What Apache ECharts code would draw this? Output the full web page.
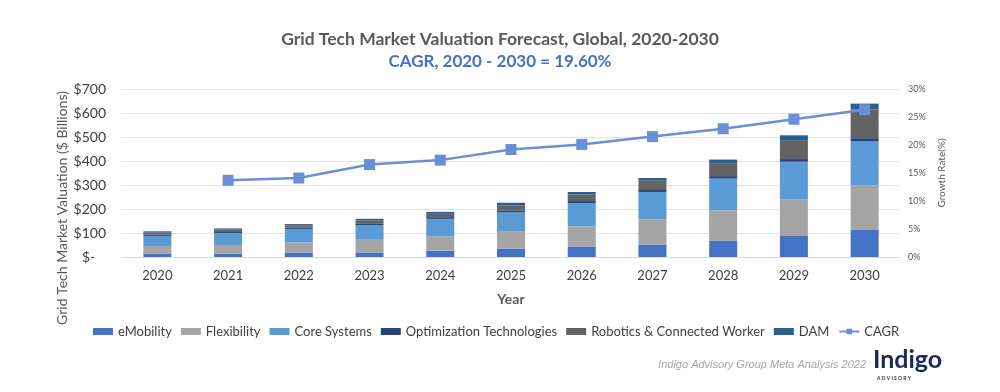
<!DOCTYPE html>
<html>
<head>
<meta charset="utf-8">
<script src="https://cdn.jsdelivr.net/npm/echarts@6/dist/echarts.min.js"></script>
<style>
html,body{margin:0;padding:0;background:#fff;}
#chart{width:1000px;height:392px;}
</style>
</head>
<body>
<div id="chart"></div>
<script>
const categories = ['2020','2021','2022','2023','2024','2025','2026','2027','2028','2029','2030'];
const eMobility    = [13, 14, 18, 19, 26, 35, 42, 52, 67, 88, 115];
const flexibility  = [33, 36, 43, 53, 61, 73, 86, 105, 127, 152, 183];
const coreSystems  = [42, 50, 56, 61, 72, 79, 97, 114, 133, 157, 185];
const optimization = [5, 4, 5, 5, 7, 7, 8, 8, 10, 11, 12];
const robotics     = [9, 10, 10, 14, 14, 21, 27, 39, 54, 79, 120];
const dam          = [5, 5, 5, 7, 8, 11, 11, 11, 15, 20, 24];
const cagr         = [null, 13.7, 14.1, 16.5, 17.3, 19.2, 20.1, 21.5, 22.9, 24.6, 26.3];
const leftTicks = [0,100,200,300,400,500,600,700];

const FONT = 'Lato';
const chart = echarts.init(document.getElementById('chart'), null, {renderer:'canvas'});

function bar(name, data, color){
  return {name, type:'bar', stack:'total', data, barWidth:28,
    itemStyle:{color}, emphasis:{disabled:true}};
}

chart.setOption({
  backgroundColor:'#ffffff',
  animation:false,
  textStyle:{fontFamily:FONT},
  title:[{
    text:'Grid Tech Market Valuation Forecast, Global, 2020-2030',
    left:'center', top:25,
    textStyle:{fontFamily:FONT, fontSize:17.5, fontWeight:'bold', color:'#595959'}
  },{
    text:'CAGR, 2020 - 2030 = 19.60%',
    left:'center', top:48,
    textStyle:{fontFamily:FONT, fontSize:17, fontWeight:'bold', color:'#4472C4'}
  }],
  grid:{left:122, right:100, top:89, bottom:135},
  legend:{
    left:88, top:320, itemWidth:20, itemHeight:7, itemGap:9,
    textStyle:{fontFamily:FONT, fontSize:13, color:'#404040'},
    data:[
      {name:'eMobility', icon:'rect'},
      {name:'Flexibility', icon:'rect'},
      {name:'Core Systems', icon:'rect'},
      {name:'Optimization Technologies', icon:'rect'},
      {name:'Robotics & Connected Worker', icon:'rect'},
      {name:'DAM', icon:'rect'},
      {name:'CAGR'}
    ]
  },
  xAxis:{
    type:'category', data:categories,
    name:'Year', nameLocation:'middle', nameGap:35,
    nameTextStyle:{fontFamily:FONT, fontSize:14, fontWeight:'bold', color:'#595959'},
    axisLine:{lineStyle:{color:'#d9d9d9'}},
    axisTick:{show:false},
    axisLabel:{fontFamily:FONT, fontSize:13, color:'#404040', margin:12}
  },
  yAxis:[{
    type:'value', min:0, max:700, interval:100,
    axisLine:{show:false}, axisTick:{show:false},
    splitLine:{lineStyle:{color:'#e3e3e3', width:1}},
    axisLabel:{fontFamily:FONT, fontSize:14, color:'#404040', margin:16,
      formatter:v => v===0 ? '$-   ' : '$'+v}
  },{
    type:'value', min:0, max:30, interval:5, position:'right',
    name:'Growth Rate(%)', nameLocation:'middle', nameGap:30, nameRotate:90,
    nameTextStyle:{fontFamily:FONT, fontSize:10, color:'#595959'},
    axisLine:{show:false}, axisTick:{show:false}, splitLine:{show:false},
    axisLabel:{fontFamily:FONT, fontSize:9, color:'#595959', margin:8,
      formatter:'{value}%'}
  }],
  series:[
    bar('eMobility', eMobility, '#4472C4'),
    bar('Flexibility', flexibility, '#A5A5A5'),
    bar('Core Systems', coreSystems, '#5B9BD5'),
    bar('Optimization Technologies', optimization, '#264478'),
    bar('Robotics & Connected Worker', robotics, '#636363'),
    bar('DAM', dam, '#255E91'),
    {name:'CAGR', type:'line', yAxisIndex:1, data:cagr, z:5,
     symbol:'rect', symbolSize:11, showSymbol:true,
     lineStyle:{color:'#6a8fd6', width:2.5},
     itemStyle:{color:'#6a8fd6'}, emphasis:{disabled:true}}
  ],
  graphic:[
    {type:'text', x:62, y:208, rotation:Math.PI/2,
     style:{text:'Grid Tech Market Valuation ($ Billions)', fontFamily:FONT, fontSize:14,
       fill:'#595959', textAlign:'center', textVerticalAlign:'middle'}},
    {type:'text', x:866, y:365,
     style:{text:'Indigo Advisory Group Meta Analysis 2022', fontFamily:'Liberation Sans',
       fontStyle:'italic', fontSize:11, fill:'#a6a6a6', textAlign:'right', textVerticalAlign:'middle'}},
    {type:'text', x:873, y:360,
     style:{text:'Indigo', fontFamily:FONT, fontWeight:'bold', fontSize:25,
       fill:'#1a2b57', textAlign:'left', textVerticalAlign:'middle'}},
    {type:'text', x:877, y:378,
     style:{text:'A D V I S O R Y', fontFamily:FONT, fontWeight:'bold', fontSize:5,
       fill:'#1a2b57', textAlign:'left', textVerticalAlign:'middle'}}
  ]
});
</script>
</body>
</html>
